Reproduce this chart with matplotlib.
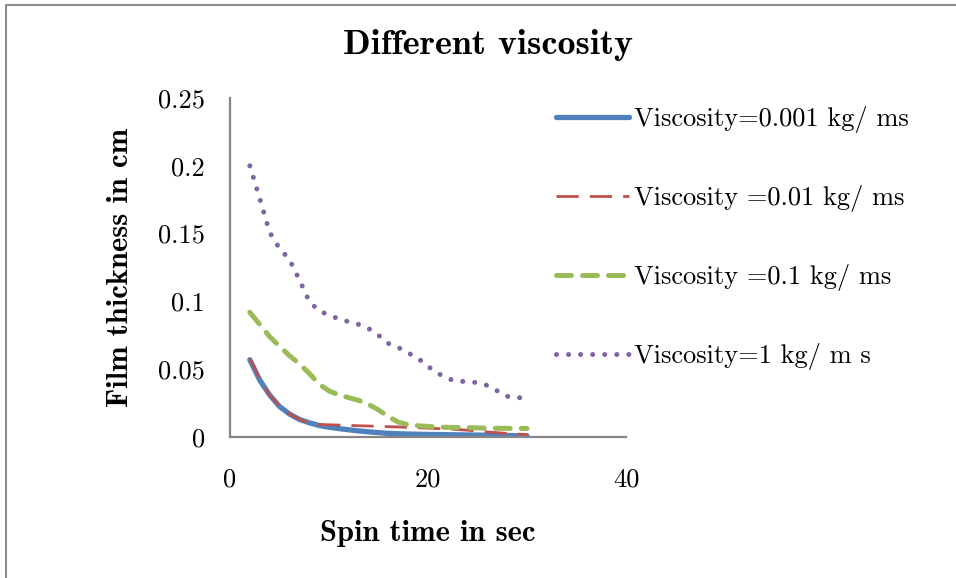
import matplotlib
matplotlib.use("Agg")
import matplotlib.pyplot as plt
from matplotlib.lines import Line2D

plt.rcParams['font.family'] = ['cmr10', 'DejaVu Serif']
plt.rcParams['axes.formatter.use_mathtext'] = True

time_s = [2, 3, 4, 5, 6, 7, 8, 9, 10, 11, 12, 13, 14, 15, 16, 17, 18, 19, 20,
          21, 22, 23, 24, 25, 26, 27, 28, 29, 30]

visc_0001 = [0.057, 0.042, 0.031, 0.0225, 0.017, 0.013, 0.0105, 0.0085, 0.0072,
             0.0062, 0.0053, 0.0045, 0.0038, 0.0032, 0.0027, 0.0024, 0.0022,
             0.0020, 0.0019, 0.0018, 0.0017, 0.0016, 0.0015, 0.0014, 0.0013,
             0.0012, 0.0011, 0.0010, 0.0009]
visc_001 = [0.058, 0.043, 0.031, 0.023, 0.017, 0.013, 0.0105, 0.0092, 0.0090,
            0.0088, 0.0085, 0.0083, 0.0081, 0.0079, 0.0076, 0.0074, 0.0071,
            0.0068, 0.0065, 0.0062, 0.0059, 0.0055, 0.0050, 0.0044, 0.0037,
            0.0032, 0.0026, 0.0022, 0.0018]
visc_01 = [0.092, 0.083, 0.074, 0.067, 0.060, 0.054, 0.047, 0.039, 0.034,
           0.031, 0.029, 0.027, 0.024, 0.020, 0.015, 0.011, 0.009, 0.0083,
           0.0078, 0.0073, 0.0071, 0.0070, 0.0069, 0.0067, 0.0065, 0.0064,
           0.0064, 0.0063, 0.0063]
visc_1 = [0.200, 0.176, 0.151, 0.139, 0.131, 0.116, 0.100, 0.093, 0.090,
          0.087, 0.085, 0.083, 0.080, 0.075, 0.069, 0.066, 0.062, 0.058,
          0.052, 0.047, 0.043, 0.041, 0.041, 0.040, 0.038, 0.034, 0.030,
          0.029, 0.029]

labels = ["Viscosity=0.001 kg/ ms", "Viscosity =0.01 kg/ ms",
          "Viscosity =0.1 kg/ ms", "Viscosity=1 kg/ m s"]
x_ticks = [0, 20, 40]
y_ticks = [0, 0.05, 0.1, 0.15, 0.2, 0.25]
y_tick_labels = ["0", "0.05", "0.1", "0.15", "0.2", "0.25"]

fig = plt.figure(figsize=(9.56, 5.78), dpi=100)
ax = fig.add_axes([230/956, 1-437/578, 396/956, 339/578])

ax.plot(time_s, visc_0001, color='#4F81BD', lw=3.8, solid_capstyle='round',
        label=labels[0])
ax.plot(time_s, visc_001, color='#C0504D', lw=2.0, dashes=(8, 4),
        label=labels[1])
ax.plot(time_s, visc_01, color='#9BBB59', lw=3.6, dashes=(3.0, 2.2),
        dash_capstyle='round', label=labels[2])
ax.plot(time_s, visc_1, color='#8064A2', lw=3.6, dashes=(0.01, 2.4),
        dash_capstyle='round', label=labels[3])

ax.set_xlim(0, 40)
ax.set_ylim(0, 0.25)
ax.set_xticks(x_ticks)
ax.set_xticklabels([str(t) for t in x_ticks])
ax.set_yticks(y_ticks)
ax.set_yticklabels(y_tick_labels)
ax.tick_params(length=0, labelsize=19)
ax.tick_params(axis='x', pad=22)
ax.tick_params(axis='y', pad=18)
for s in ['top', 'right']:
    ax.spines[s].set_visible(False)
for s in ['left', 'bottom']:
    ax.spines[s].set_color('#868686')
    ax.spines[s].set_linewidth(1.6)

ax.set_xlabel("Spin time in sec", family='cmb10', fontsize=22, labelpad=21)
ax.set_ylabel("Film thickness in cm", family='cmb10', fontsize=22, labelpad=17)
fig.text(488/956, 1-45/578, "Different viscosity", family='cmb10',
         fontsize=26, ha='center', va='center')

leg = fig.legend(loc='upper left', bbox_to_anchor=(556/956, 1-106/578),
                 frameon=False, fontsize=19, handlelength=2.75,
                 labelspacing=1.97, handletextpad=0.2, borderaxespad=0,
                 borderpad=0)

# chart border
fig.add_artist(Line2D([6/956, 6/956, 1.0], [0.0, 1-5/578, 1-5/578],
                      transform=fig.transFigure, color='#8C8C8C', lw=1.5))

fig.savefig("out.png", dpi=100)
